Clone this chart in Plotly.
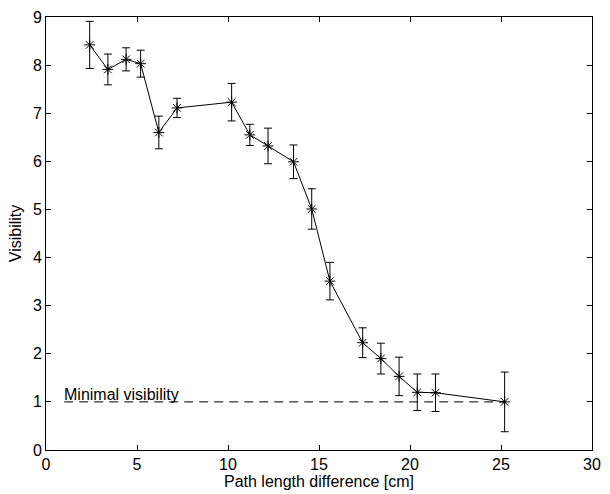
import plotly.graph_objects as go

# Path length difference [cm] and measured visibility with uncertainty
path_diff = [2.4, 3.4, 4.4, 5.2, 6.2, 7.2, 10.2, 11.2, 12.2, 13.6, 14.6,
             15.6, 17.4, 18.4, 19.4, 20.4, 21.4, 25.2]
visibility = [8.42, 7.91, 8.12, 8.03, 6.60, 7.11, 7.23, 6.55, 6.32, 5.99,
              5.01, 3.51, 2.23, 1.90, 1.53, 1.20, 1.19, 1.00]
vis_err = [0.49, 0.32, 0.24, 0.28, 0.34, 0.20, 0.39, 0.22, 0.37, 0.35,
           0.42, 0.39, 0.31, 0.32, 0.40, 0.38, 0.39, 0.62]

# Minimal visibility threshold line
threshold_x = [1.0, 25.2]
threshold_y = [1.0, 1.0]

FONT = "Liberation Sans, Arial, sans-serif"
FS = 16

fig = go.Figure()

fig.add_trace(go.Scatter(
    x=threshold_x, y=threshold_y, mode="lines",
    line=dict(color="black", width=1, dash="9px,6px"),
    hoverinfo="skip", showlegend=False,
))

fig.add_trace(go.Scatter(
    x=path_diff, y=visibility, mode="lines+markers",
    line=dict(color="black", width=1),
    marker=dict(symbol="asterisk-open", size=9, color="black",
                line=dict(color="black", width=1)),
    error_y=dict(type="data", array=vis_err, visible=True,
                 color="black", thickness=1, width=4),
    showlegend=False,
))

fig.add_annotation(
    x=1.0, y=1.0, xref="x", yref="y", text="Minimal visibility",
    showarrow=False, xanchor="left", yanchor="bottom", yshift=-3, xshift=-2,
    font=dict(size=FS, color="black", family=FONT),
)

axis_common = dict(
    showline=True, linecolor="black", linewidth=1, mirror="ticks",
    ticks="inside", ticklen=5, tickcolor="black", tickwidth=1,
    showgrid=False, zeroline=False,
    tickfont=dict(size=FS, color="black", family=FONT),
)

fig.update_xaxes(range=[0, 30], dtick=5, tick0=0,
                 title=dict(text="Path length difference [cm]",
                            font=dict(size=FS, color="black", family=FONT),
                            standoff=1),
                 **axis_common)
fig.update_yaxes(range=[0, 9], dtick=1, tick0=0,
                 title=dict(text="Visibility",
                            font=dict(size=FS, color="black", family=FONT),
                            standoff=7),
                 **axis_common)

fig.update_layout(
    width=610, height=494,
    margin=dict(l=46, r=9, t=15, b=42),
    paper_bgcolor="white", plot_bgcolor="white",
    font=dict(family=FONT, size=FS, color="black"),
)

fig.write_html("out.html")
